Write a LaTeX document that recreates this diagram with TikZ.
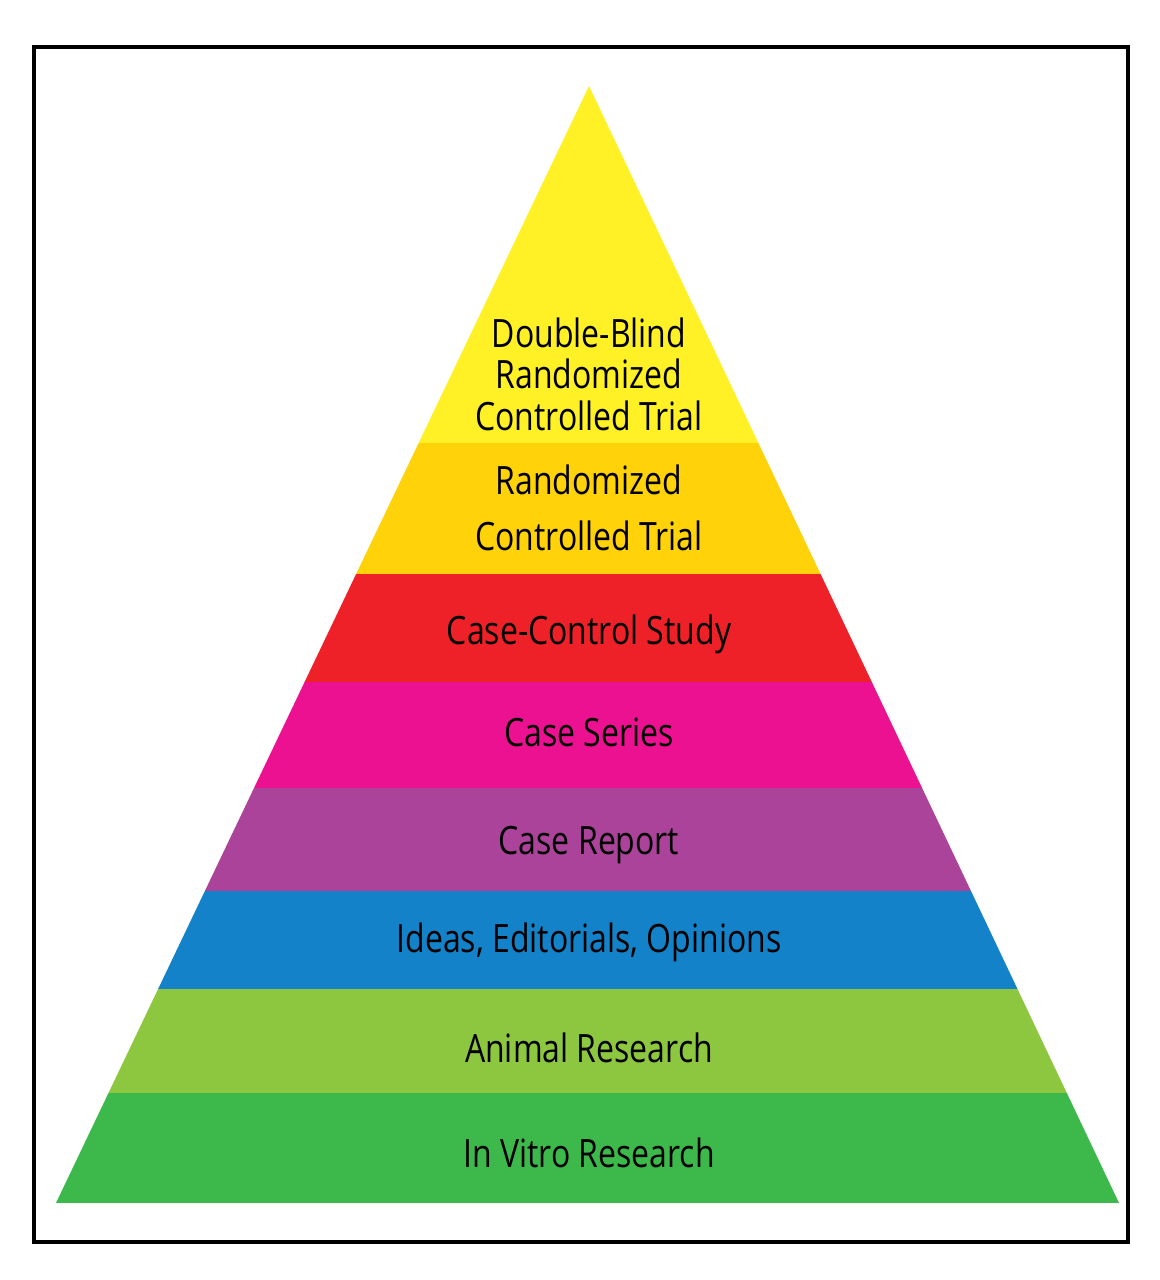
\documentclass[tikz,border=0pt]{standalone}
\usepackage{fontspec}
\setmainfont[FakeStretch=0.82]{Open Sans}
\usepackage{tikz}
\usetikzlibrary{positioning}
\usepackage{xcolor}

\definecolor{lvlYellow}{HTML}{FFF126}
\definecolor{lvlGold}{HTML}{FFD20A}
\definecolor{lvlRed}{HTML}{EE2128}
\definecolor{lvlMagenta}{HTML}{EC1190}
\definecolor{lvlPurple}{HTML}{AA4399}
\definecolor{lvlBlue}{HTML}{1482C8}
\definecolor{lvlLime}{HTML}{8DC63F}
\definecolor{lvlGreen}{HTML}{3CB94A}

\begin{document}
\begin{tikzpicture}[
  level/.style={font=\fontsize{11.1}{11.8}\selectfont, align=center, text=black, inner sep=0pt}]
  \useasboundingbox (0,0) rectangle (11.59,12.8);
  \draw[line width=0.9pt] (0.34,0.38) rectangle (11.28,12.33);

  % pyramid bands, clipped to the triangle
  \begin{scope}
    \clip (0.56,0.77) -- (5.89,11.94) -- (11.19,0.77) -- cycle;
    \fill[lvlYellow]  (0,8.37) rectangle (12,12);
    \fill[lvlGold]    (0,7.06) rectangle (12,8.37);
    \fill[lvlRed]     (0,5.98) rectangle (12,7.06);
    \fill[lvlMagenta] (0,4.92) rectangle (12,5.98);
    \fill[lvlPurple]  (0,3.89) rectangle (12,4.92);
    \fill[lvlBlue]    (0,2.91) rectangle (12,3.89);
    \fill[lvlLime]    (0,1.87) rectangle (12,2.91);
    \fill[lvlGreen]   (0,0.77) rectangle (12,1.87);
  \end{scope}

  \node[level] (dbrct) at (5.89,9.06) {Double-Blind\\Randomized\\Controlled Trial};
  \node[level, font=\fontsize{11.1}{15.9}\selectfont] (rct) at (5.89,7.72) {Randomized\\Controlled Trial};
  \node[level] (casecontrol) at (5.89,6.46) {Case-Control Study};
  \node[level] (caseseries) at (5.89,5.48) {Case Series};
  \node[level] (casereport) at (5.89,4.35) {Case Report};
  \node[level] (ideas) at (5.89,3.38) {Ideas, Editorials, Opinions};
  \node[level] (animal) at (5.89,2.32) {Animal Research};
  \node[level] (invitro) at (5.89,1.27) {In Vitro Research};
\end{tikzpicture}
\end{document}
